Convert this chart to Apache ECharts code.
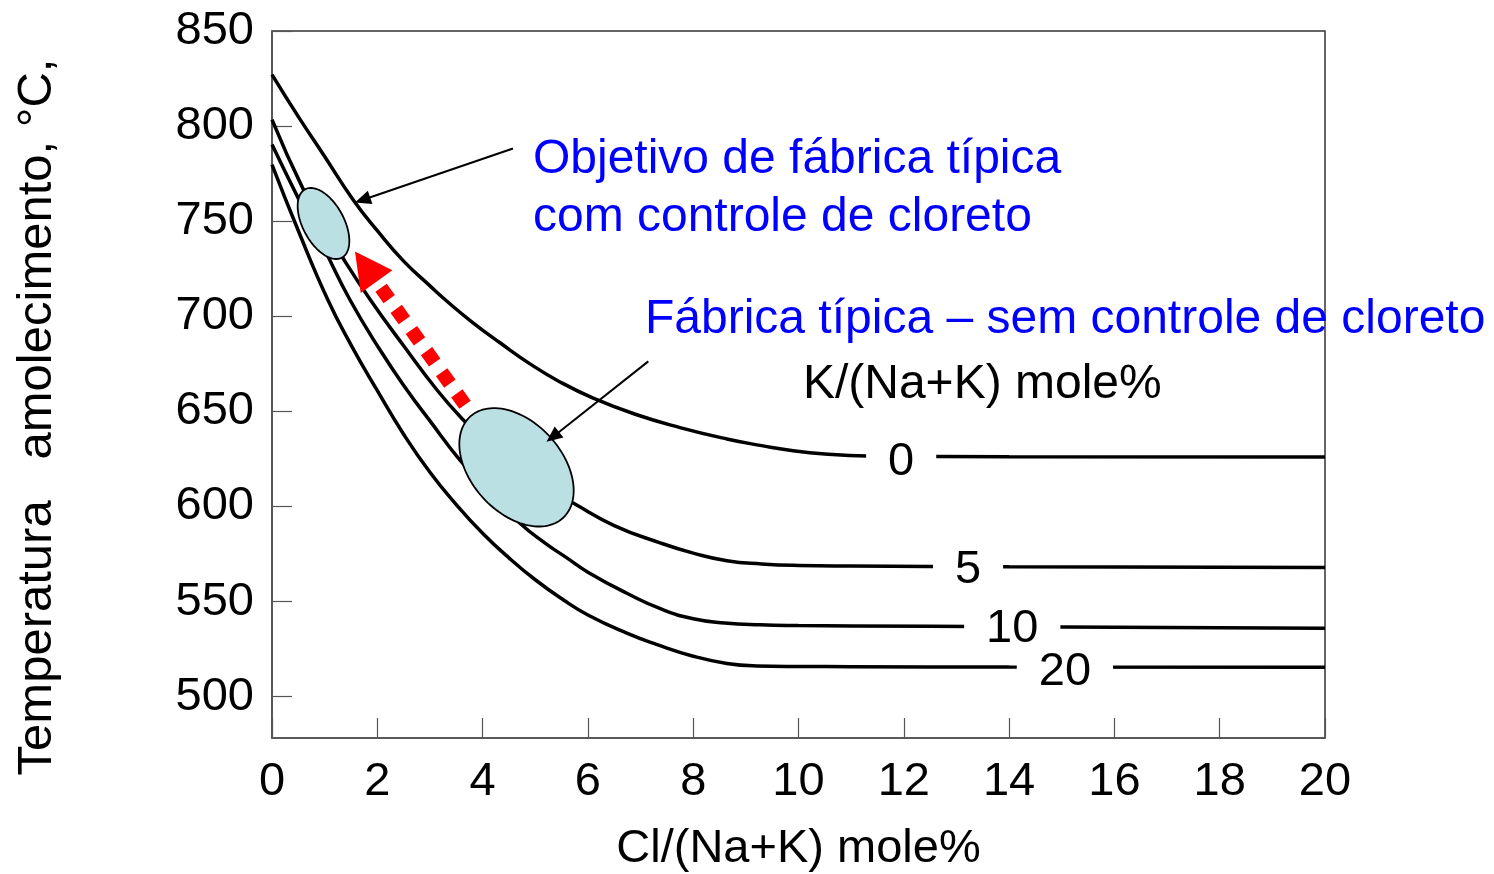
<!DOCTYPE html>
<html>
<head>
<meta charset="utf-8">
<script src="https://cdn.jsdelivr.net/npm/echarts@6/dist/echarts.min.js"></script>
<style>
html,body{margin:0;padding:0;background:#fff;}
#chart{width:1494px;height:874px;}
</style>
</head>
<body>
<div id="chart"></div>
<script>
// ---- data ----
const xTickValues = [0, 2, 4, 6, 8, 10, 12, 14, 16, 18, 20];
const yTickValues = [500, 550, 600, 650, 700, 750, 800, 850];

const curveK0 = [[0,827.1],[0.5,805],[1,784],[1.54,761.3],[2,745],[2.5,729],[3,716],[3.29,708.7],[3.8,697],[4.33,686.1],[4.9,675],[5.47,665.5],[6.1,657],[6.9,648.5],[7.75,641.5],[8.64,635.5],[9.3,632],[9.9,629.3],[10.5,627.6],[11.3,626.6],[14,626.2],[20,626]];
const curveK5 = [[0,803.4],[0.59,767],[1,747],[1.35,730.5],[1.86,709],[2.5,684.5],[3.13,661.4],[3.63,645.6],[4.2,630],[4.8,617],[5.3,608.5],[5.72,601.8],[6.5,590],[7.37,580.9],[8,575.5],[8.64,571.5],[9.3,569.8],[10,569],[11,568.7],[14,568.3],[20,568]];
const curveK10 = [[0,790.3],[0.5,762],[1,735],[1.48,708.7],[2.05,682.4],[2.56,661.4],[3,645],[3.57,624.4],[4.1,608.5],[4.71,591.2],[5.2,580.5],[5.6,573],[6,565.5],[6.74,554.4],[7.4,546],[8,541],[8.6,538.8],[9.27,537.8],[10,537.4],[11,537.2],[14,536.8],[20,536]];
const curveK20 = [[0,779.8],[0.5,745],[1.06,708.7],[1.5,685],[1.99,661.4],[2.5,638],[3,618],[3.5,601],[4,586],[4.5,573],[5,561.5],[5.53,551],[6,543],[6.74,533.4],[7.3,527.5],[8,521.3],[8.64,517.5],[9.2,516.2],[10,515.9],[11,515.8],[14,515.6],[20,515.5]];
const curveNames = ['0', '5', '10', '20'];
const curveLabelPos = [[11.95,623.5],[13.22,566.7],[14.06,535.7],[15.06,513]];

const ellipseCenters = [[0.978,748.8],[4.644,620.6]];
const redArrow = [[3.666,653.5,1.576,734.1]];
const blackArrows = [[4.577,788.2,1.576,759.8],[7.147,676.3,5.214,634]];

const blueTexts = ['Objetivo de fábrica típica', 'com controle de cloreto', 'Fábrica típica – sem controle de cloreto'];
const blueTextPos = [[4.957,782.3],[4.957,751.8],[7.085,698.2]];
const blackTexts = ['K/(Na+K) mole%'];
const blackTextPos = [[10.085,664]];

const xTitle = 'Cl/(Na+K) mole%';
const yTitle = 'Temperatura   amolecimento, °C,';

// ---- styles ----
const FONT = '"Liberation Sans", Arial, Helvetica, sans-serif';
const FS = 47;
const FS_ANN = 48;
const ellipseShapes = [{rx:38.8, ry:20.6, rot:61.7},{rx:68.7, ry:45.3, rot:47.5}];

const chart = echarts.init(document.getElementById('chart'), null, {renderer:'canvas'});

function ellipsePoints(cx, cy, rx, ry, rotDeg){
  const t = rotDeg*Math.PI/180, ct = Math.cos(t), st = Math.sin(t);
  const pts = [];
  for(let i=0;i<120;i++){
    const a = i/120*2*Math.PI;
    const ex = rx*Math.cos(a), ey = ry*Math.sin(a);
    pts.push([cx + ex*ct - ey*st, cy + ex*st + ey*ct]);
  }
  return pts;
}

function arrowRender(opts){
  return function(params, api){
    const p0 = api.coord([api.value(0), api.value(1)]);
    const p1 = api.coord([api.value(2), api.value(3)]);
    const dx = p1[0]-p0[0], dy = p1[1]-p0[1];
    const L = Math.sqrt(dx*dx+dy*dy), ux = dx/L, uy = dy/L;
    const bx = p1[0]-ux*opts.headLen, by = p1[1]-uy*opts.headLen;
    const nx = -uy, ny = ux, hw = opts.headWidth/2;
    return {
      type:'group',
      children:[
        {type:'line', shape:{x1:p0[0], y1:p0[1], x2:bx+ux*opts.overlap, y2:by+uy*opts.overlap},
         style:{stroke:opts.color, lineWidth:opts.lineWidth, lineDash:opts.dash, lineCap:'butt', fill:null}},
        {type:'polygon', shape:{points:[[p1[0],p1[1]],[bx+nx*hw,by+ny*hw],[bx-nx*hw,by-ny*hw]]},
         style:{fill:opts.color, stroke:null}}
      ]
    };
  };
}

const textSeriesBase = {
  type:'scatter', symbolSize:0.1, silent:true,
  itemStyle:{color:'rgba(0,0,0,0)', opacity:1},
  emphasis:{disabled:true}
};

const option = {
  animation:false,
  backgroundColor:'#fff',
  grid:{left:272, right:169, top:31, bottom:136, containLabel:false, outerBoundsMode:'none',
    show:true, borderColor:'#333', borderWidth:1.5, backgroundColor:'transparent'},
  xAxis:{
    type:'value', min:0, max:20, interval:2,
    axisLine:{show:true, lineStyle:{color:'#555', width:1.5}},
    axisTick:{show:true, inside:true, length:20, lineStyle:{color:'#555', width:1.2}},
    axisLabel:{margin:21, fontSize:FS, color:'#000', fontFamily:FONT,
      customValues:xTickValues, formatter:v=>String(v)},
    splitLine:{show:false},
    name:xTitle, nameLocation:'middle', nameGap:88,
    nameTextStyle:{fontSize:FS, color:'#000', fontFamily:FONT}
  },
  yAxis:{
    type:'value', min:478.3, max:850,
    axisLine:{show:true, lineStyle:{color:'#555', width:1.5}},
    axisTick:{show:true, inside:true, length:20, customValues:yTickValues, lineStyle:{color:'#555', width:1.2}},
    axisLabel:{margin:18, fontSize:FS, color:'#000', fontFamily:FONT, customValues:yTickValues,
      padding:[5,0,0,0]},
    splitLine:{show:false}
  },
  graphic:[{
    type:'text', x:37, y:417, rotation:Math.PI/2,
    style:{text:yTitle, fontSize:49, fontFamily:FONT, fill:'#000', align:'center', verticalAlign:'middle'}
  }],
  series:[
    ...[curveK0, curveK5, curveK10, curveK20].map((d,i)=>({
      type:'line', name:'K'+curveNames[i], data:d, showSymbol:false, symbol:'none',
      smooth:0.5, z:2, silent:true,
      lineStyle:{color:'#000', width:3.5}
    })),
    {
      type:'custom', name:'ellipses', z:5, clip:false, silent:true,
      data:ellipseCenters,
      renderItem:(params, api)=>{
        const c = api.coord([api.value(0), api.value(1)]);
        const s = ellipseShapes[params.dataIndex];
        return {type:'polygon', shape:{points:ellipsePoints(c[0],c[1],s.rx,s.ry,s.rot)},
          style:{fill:'#bae0e4', stroke:'#000', lineWidth:1.8}};
      }
    },
    {
      type:'custom', name:'redArrow', z:6, clip:false, silent:true, data:redArrow,
      renderItem:arrowRender({color:'#ff0000', lineWidth:14, dash:[14,12], headLen:37, headWidth:39, overlap:6})
    },
    {
      type:'custom', name:'blackArrows', z:7, clip:false, silent:true, data:blackArrows,
      renderItem:arrowRender({color:'#000', lineWidth:2, dash:null, headLen:16, headWidth:14, overlap:2})
    },
    Object.assign({}, textSeriesBase, {
      name:'curveLabels', z:8,
      data:curveLabelPos.map((p,i)=>({value:p, name:curveNames[i]})),
      label:{show:true, position:'inside', formatter:'{b}', fontSize:FS, fontFamily:FONT, color:'#000',
        backgroundColor:'#fff', padding:[0,22]}
    }),
    Object.assign({}, textSeriesBase, {
      name:'blueTexts', z:9,
      data:blueTextPos.map((p,i)=>({value:p, name:blueTexts[i]})),
      label:{show:true, position:[0,0], align:'left', verticalAlign:'middle', formatter:'{b}',
        fontSize:FS_ANN, fontFamily:FONT, color:'#0000ff'}
    }),
    Object.assign({}, textSeriesBase, {
      name:'blackTexts', z:9,
      data:blackTextPos.map((p,i)=>({value:p, name:blackTexts[i]})),
      label:{show:true, position:[0,0], align:'left', verticalAlign:'middle', formatter:'{b}',
        fontSize:FS_ANN, fontFamily:FONT, color:'#000'}
    })
  ]
};
chart.setOption(option);
</script>
</body>
</html>
